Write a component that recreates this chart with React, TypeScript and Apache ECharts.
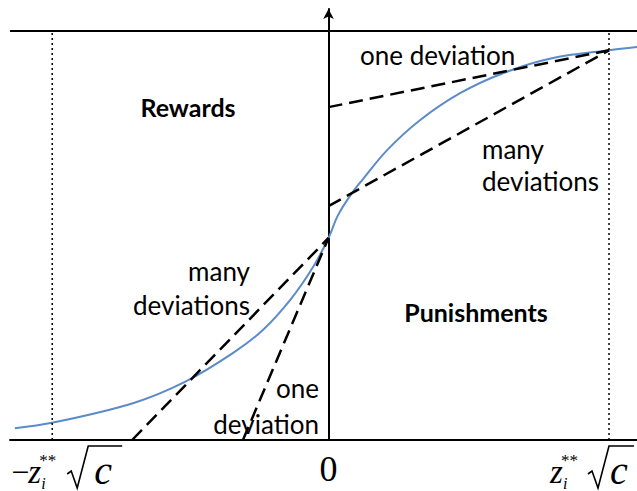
import React, { useEffect, useRef } from "react";
import * as echarts from "echarts";

// Curve (blue sigmoid), x in units of z** sqrt(c), y in units of top line
const curveX = [-1.118, -0.986, -0.697, -0.512, -0.34, -0.234, -0.137, -0.055, 0, 0.034, 0.084, 0.123, 0.209, 0.326, 0.469, 0.622, 0.8, 1.0, 1.1];
const curveY = [0.029, 0.042, 0.09, 0.142, 0.213, 0.269, 0.342, 0.423, 0.494, 0.55, 0.604, 0.638, 0.709, 0.782, 0.848, 0.897, 0.934, 0.953, 0.961];

// Dashed lines (endpoints)
const oneDevRight = [[0, 0.814], [1.0, 0.953]];
const manyDevRight = [[0, 0.572], [1.0, 0.953]];
const manyDevLeft = [[-0.7, 0], [0, 0.494]];
const oneDevLeft = [[-0.305, 0], [0, 0.494]];

// Dotted verticals and tick values
const tickValues = [-0.985, 0, 1.0];
const topLevel = 1;

const X_MIN = -1.1355;
const X_MAX = 1.0998;
const Y_MAX = 1.054;

const SANS = "Lato";
const SERIF = "Liberation Serif";

export default function App() {
  const ref = useRef<HTMLDivElement>(null);
  useEffect(() => {
    const chart = echarts.init(ref.current!, null, { renderer: "svg" });
    const dashed = { type: [14, 7], width: 2.5, color: "#000" };
    const dotted = { type: [2, 3], width: 1.5, color: "#000" };
    const seg = (data: number[][], lineStyle: any, z = 3) => ({
      type: "line",
      data,
      symbol: "none",
      silent: true,
      lineStyle,
      z,
    });
    const curveData = curveX.map((x, i) => [x, curveY[i]]);
    chart.setOption({
      animation: false,
      grid: { left: 10, right: 0, top: 9, bottom: 51 },
      xAxis: {
        type: "value",
        min: X_MIN,
        max: X_MAX,
        axisLine: { show: true, lineStyle: { color: "#000", width: 2 } },
        axisTick: { show: false },
        axisLabel: { show: false },
        splitLine: { show: false },
      },
      yAxis: {
        type: "value",
        min: 0,
        max: Y_MAX,
        axisLine: {
          show: true,
          onZero: true,
          symbol: ["none", "arrow"],
          symbolSize: [8, 10],
          lineStyle: { color: "#000", width: 2 },
        },
        axisTick: { show: false },
        axisLabel: { show: false },
        splitLine: { show: false },
      },
      series: [
        seg([[X_MIN, topLevel], [X_MAX, topLevel]], { color: "#000", width: 2, type: "solid" }),
        seg([[tickValues[0], 0], [tickValues[0], topLevel]], dotted),
        seg([[tickValues[2], 0], [tickValues[2], topLevel]], dotted),
        {
          type: "line",
          data: curveData,
          symbol: "none",
          smooth: 0.35,
          silent: true,
          lineStyle: { color: "#5b8bc9", width: 2 },
          z: 2,
        },
        seg(oneDevRight, dashed),
        seg(manyDevRight, dashed),
        seg(manyDevLeft, dashed),
        seg(oneDevLeft, dashed),
      ],
    });

    const px = (v: number) => chart.convertToPixel({ gridIndex: 0 }, [v, 0]) as number[];
    const base = px(0)[1];

    const txt = (text: string, x: number, y: number, size: number, opts: any = {}) => {
      const family = opts.family || SANS;
      const style = opts.style || "normal";
      const weight = opts.weight || "normal";
      return {
        type: "text",
        x,
        y,
        z: 1,
        silent: true,
        style: {
          text,
          x: 0,
          y: 0,
          fill: "#000",
          font: `${style} ${weight} ${size}px ${family}`,
          fontSize: size,
          fontFamily: family,
          fontWeight: weight,
          fontStyle: style,
          align: opts.align || "left",
          verticalAlign: "middle",
          textAlign: opts.align || "left",
          textVerticalAlign: "middle",
        },
      };
    };

    const mathLabel = (tx: number, o: { zx: number; rx: number; cx: number; ox: number; minus: boolean }) => {
      const els: any[] = [];
      if (o.minus) els.push(txt("−", tx + o.zx - 17, base + 32, 32, { family: SERIF }));
      els.push(txt("z", tx + o.zx, base + 32, 33, { family: SERIF, style: "italic" }));
      els.push(txt("**", tx + o.zx + 11, base + 20, 17, { family: SERIF }));
      els.push(txt("i", tx + o.zx + 13, base + 43, 16, { family: SERIF, style: "italic" }));
      els.push({
        type: "polyline",
        silent: true,
        z: 1,
        shape: {
          points: [
            [tx + o.rx, base + 34],
            [tx + o.rx + 4, base + 31],
            [tx + o.rx + 10, base + 48],
            [tx + o.rx + 21, base + 6],
            [tx + o.ox, base + 6],
          ],
        },
        style: { stroke: "#000", lineWidth: 1.6, fill: "none" },
      });
      els.push(txt("c", tx + o.cx, base + 30, 40, { family: SERIF, style: "italic" }));
      return els;
    };

    const lx = px(tickValues[0])[0];
    const zx0 = px(tickValues[1])[0];
    const rx = px(tickValues[2])[0];

    chart.setOption({
      graphic: [
        txt("one deviation", 360, 55, 26),
        txt("Rewards", 188, 107, 25, { weight: "bold", align: "center" }),
        txt("many", 482, 149, 26),
        txt("deviations", 482, 181, 26),
        txt("many", 250, 271, 26, { align: "right" }),
        txt("deviations", 250, 305, 26, { align: "right" }),
        txt("Punishments", 476, 312, 25, { weight: "bold", align: "center" }),
        txt("one", 319, 388, 26, { align: "right" }),
        txt("deviation", 319, 424, 26, { align: "right" }),
        txt("0", zx0, base + 29, 36, { family: SERIF, align: "center" }),
        ...mathLabel(lx, { zx: -24, rx: 15, cx: 42, ox: 70, minus: true }),
        ...mathLabel(rx, { zx: -59, rx: -21, cx: 1, ox: 25, minus: false }),
      ],
    });

    return () => chart.dispose();
  }, []);
  return (
    <div
      ref={ref}
      style={{ position: "absolute", left: 0, top: 0, width: 637, height: 491, background: "#fff" }}
    />
  );
}
